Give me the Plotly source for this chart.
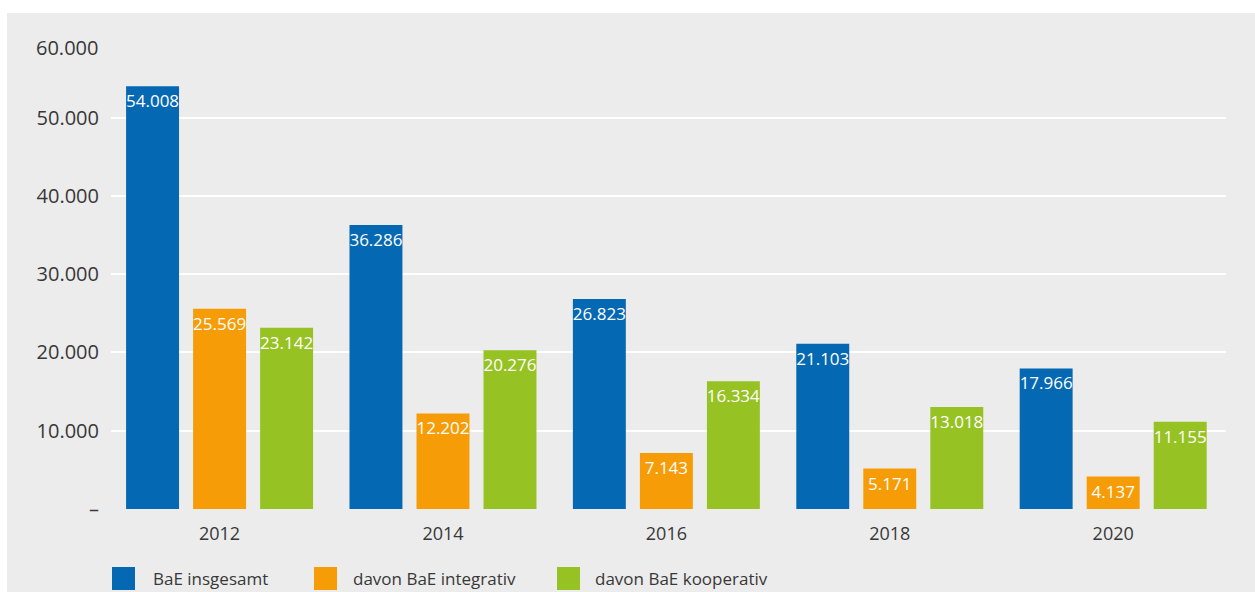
import plotly.graph_objects as go

# Data
years = ["2012", "2014", "2016", "2018", "2020"]
series_names = ["BaE insgesamt", "davon BaE integrativ", "davon BaE kooperativ"]
bae_insgesamt = [54008, 36286, 26823, 21103, 17966]
bae_integrativ = [25569, 12202, 7143, 5171, 4137]
bae_kooperativ = [23142, 20276, 16334, 13018, 11155]
y_tick_values = [0, 10000, 20000, 30000, 40000, 50000]
y_top_label = "60.000"

series_values = [bae_insgesamt, bae_integrativ, bae_kooperativ]
colors = ["#0568b3", "#f59c07", "#97c223"]

W, H = 1255, 592
ML, MR, MT, MB = 111, 29, 45, 83
PW, PH = W - ML - MR, H - MT - MB

FONT = "Open Sans, Roboto, Lato, sans-serif"
TEXT_COLOR = "#383838"


def px_x(x):
    return (x - ML) / PW


def px_y(y):
    return (H - MB - y) / PH


def de_num(v):
    return f"{v:,}".replace(",", ".")


fig = go.Figure()
for name, vals, col in zip(series_names, series_values, colors):
    fig.add_trace(go.Bar(
        x=years, y=vals, name=name,
        marker=dict(color=col, line=dict(width=0)),
        text=[de_num(v) for v in vals],
        textposition="inside",
        insidetextanchor="end",
        constraintext="none",
        textangle=0,
        textfont=dict(family=FONT, size=17, color="white"),
        cliponaxis=False,
        showlegend=False,
    ))

shapes = [
    # light grey card behind the whole chart
    dict(type="rect", xref="paper", yref="paper", layer="below",
         x0=px_x(7), x1=px_x(W), y0=px_y(H), y1=px_y(13),
         fillcolor="#ececec", line=dict(width=0)),
]
annotations = [
    dict(text=y_top_label, xref="paper", yref="paper", x=0, y=1,
         xanchor="right", yanchor="middle", xshift=-11, yshift=-2, showarrow=False,
         font=dict(family=FONT, size=20, color=TEXT_COLOR)),
]

# legend: coloured squares with labels underneath the plot
legend_square_px = [112, 314, 557]
legend_text_px = [151, 351, 593]
for name, col, sx, tx in zip(series_names, colors, legend_square_px, legend_text_px):
    shapes.append(dict(type="rect", xref="paper", yref="paper",
                       x0=px_x(sx), x1=px_x(sx + 23), y0=px_y(590), y1=px_y(567),
                       fillcolor=col, line=dict(width=0)))
    annotations.append(dict(text=name, xref="paper", yref="paper",
                            x=px_x(tx), y=px_y(578.5), xanchor="left", yanchor="middle",
                            showarrow=False,
                            font=dict(family=FONT, size=17, color=TEXT_COLOR)))

fig.update_layout(
    width=W, height=H,
    margin=dict(l=ML, r=MR, t=MT, b=MB, pad=0),
    paper_bgcolor="white",
    plot_bgcolor="#d9d9d9",
    barmode="group",
    bargap=0.1,
    bargroupgap=0.21,
    separators=",.",
    font=dict(family=FONT, color=TEXT_COLOR),
    showlegend=False,
    shapes=shapes,
    annotations=annotations,
    xaxis=dict(
        type="category",
        range=[-0.486, 4.505],
        showgrid=False, zeroline=False, showline=False,
        ticks="", ticklabelstandoff=12,
        tickfont=dict(family=FONT, size=18, color=TEXT_COLOR),
    ),
    yaxis=dict(
        range=[0, 59280],
        tickvals=y_tick_values,
        ticktext=["–" if v == 0 else de_num(v) for v in y_tick_values],
        showgrid=True, gridcolor="white", gridwidth=2,
        zeroline=False, showline=False,
        ticks="", ticklabelstandoff=11,
        tickfont=dict(family=FONT, size=20, color=TEXT_COLOR),
    ),
)

fig.write_html("out.html")
